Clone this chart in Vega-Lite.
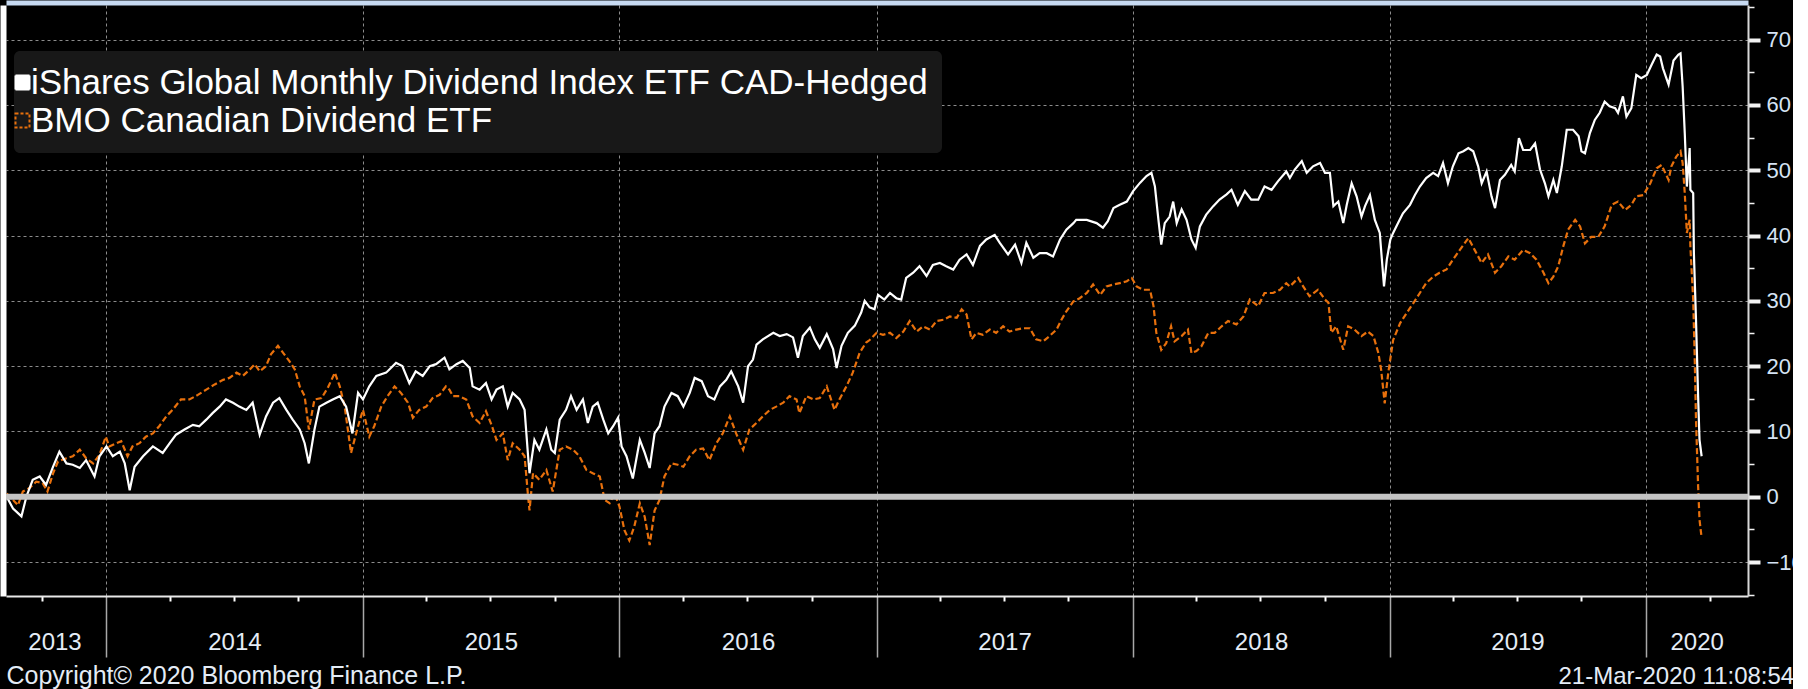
{
"$schema": "https://vega.github.io/schema/vega-lite/v6.json",
"autosize": {"type": "none"},
"padding": {"left": 6, "top": 5, "right": 45, "bottom": 93},
"width": 1742,
"height": 591,
"background": "#000000",
"config": {"view": {"stroke": null}, "font": "Liberation Sans"},
"datasets": {
"ishares": [
{"date":"2013-08-12","value":0.0},{"date":"2013-08-21","value":-1.8},{"date":"2013-09-02","value":-3.0},{"date":"2013-09-09","value":0.0},{"date":"2013-09-18","value":2.6},{"date":"2013-09-28","value":3.1},{"date":"2013-10-07","value":1.8},{"date":"2013-10-17","value":4.6},{"date":"2013-10-26","value":6.9},{"date":"2013-11-05","value":5.1},{"date":"2013-11-14","value":4.9},{"date":"2013-11-24","value":4.4},{"date":"2013-12-03","value":5.6},{"date":"2013-12-15","value":3.1},{"date":"2013-12-22","value":6.2},
{"date":"2014-01-01","value":7.7},{"date":"2014-01-10","value":6.2},{"date":"2014-01-20","value":6.9},{"date":"2014-01-27","value":5.1},{"date":"2014-02-03","value":1.0},{"date":"2014-02-10","value":4.6},{"date":"2014-02-22","value":6.2},{"date":"2014-03-08","value":7.7},{"date":"2014-03-22","value":6.7},{"date":"2014-04-01","value":8.2},{"date":"2014-04-10","value":9.5},{"date":"2014-04-22","value":10.3},{"date":"2014-05-04","value":11.0},{"date":"2014-05-13","value":10.8},{"date":"2014-05-23","value":11.8},{"date":"2014-06-01","value":12.8},{"date":"2014-06-11","value":13.8},{"date":"2014-06-20","value":14.9},{"date":"2014-06-30","value":14.4},{"date":"2014-07-09","value":13.8},{"date":"2014-07-19","value":13.3},{"date":"2014-07-28","value":14.4},{"date":"2014-08-07","value":9.5},{"date":"2014-08-16","value":12.3},{"date":"2014-08-26","value":14.4},{"date":"2014-09-04","value":15.1},{"date":"2014-09-14","value":13.3},{"date":"2014-09-23","value":11.8},{"date":"2014-10-03","value":10.3},{"date":"2014-10-10","value":8.2},{"date":"2014-10-16","value":5.1},{"date":"2014-10-24","value":10.3},{"date":"2014-10-31","value":13.8},{"date":"2014-11-10","value":14.4},{"date":"2014-11-19","value":14.9},{"date":"2014-11-29","value":15.4},{"date":"2014-12-08","value":13.8},{"date":"2014-12-17","value":9.7},{"date":"2014-12-25","value":15.9},
{"date":"2015-01-01","value":14.9},{"date":"2015-01-10","value":16.9},{"date":"2015-01-20","value":18.5},{"date":"2015-02-03","value":19.0},{"date":"2015-02-17","value":20.5},{"date":"2015-02-26","value":20.0},{"date":"2015-03-08","value":17.4},{"date":"2015-03-17","value":19.2},{"date":"2015-03-27","value":18.5},{"date":"2015-04-06","value":20.0},{"date":"2015-04-15","value":20.3},{"date":"2015-04-27","value":21.3},{"date":"2015-05-04","value":19.5},{"date":"2015-05-14","value":20.3},{"date":"2015-05-23","value":20.8},{"date":"2015-06-02","value":19.7},{"date":"2015-06-06","value":16.9},{"date":"2015-06-16","value":16.4},{"date":"2015-06-25","value":17.4},{"date":"2015-07-03","value":14.9},{"date":"2015-07-10","value":16.4},{"date":"2015-07-19","value":16.9},{"date":"2015-07-26","value":13.8},{"date":"2015-08-02","value":15.9},{"date":"2015-08-12","value":14.9},{"date":"2015-08-19","value":13.3},{"date":"2015-08-24","value":6.2},{"date":"2015-08-26","value":3.6},{"date":"2015-09-02","value":8.7},{"date":"2015-09-09","value":7.2},{"date":"2015-09-19","value":10.3},{"date":"2015-09-26","value":7.2},{"date":"2015-10-01","value":6.7},{"date":"2015-10-08","value":11.8},{"date":"2015-10-17","value":13.3},{"date":"2015-10-24","value":15.4},{"date":"2015-11-01","value":13.3},{"date":"2015-11-10","value":14.9},{"date":"2015-11-17","value":11.3},{"date":"2015-11-24","value":13.8},{"date":"2015-12-01","value":14.4},{"date":"2015-12-09","value":11.8},{"date":"2015-12-16","value":9.7},{"date":"2015-12-23","value":10.8},{"date":"2015-12-30","value":12.1},
{"date":"2016-01-04","value":7.7},{"date":"2016-01-11","value":6.2},{"date":"2016-01-20","value":2.8},{"date":"2016-01-30","value":8.7},{"date":"2016-02-06","value":6.7},{"date":"2016-02-13","value":4.4},{"date":"2016-02-20","value":9.7},{"date":"2016-02-27","value":10.8},{"date":"2016-03-05","value":13.8},{"date":"2016-03-15","value":15.9},{"date":"2016-03-24","value":15.4},{"date":"2016-04-01","value":13.8},{"date":"2016-04-10","value":15.9},{"date":"2016-04-17","value":18.2},{"date":"2016-04-27","value":17.7},{"date":"2016-05-06","value":15.4},{"date":"2016-05-15","value":14.9},{"date":"2016-05-23","value":16.9},{"date":"2016-06-01","value":17.9},{"date":"2016-06-08","value":19.2},{"date":"2016-06-18","value":16.9},{"date":"2016-06-25","value":14.4},{"date":"2016-07-02","value":20.0},{"date":"2016-07-09","value":21.0},{"date":"2016-07-14","value":23.3},{"date":"2016-07-23","value":24.1},{"date":"2016-08-07","value":25.1},{"date":"2016-08-16","value":24.6},{"date":"2016-08-26","value":24.9},{"date":"2016-09-04","value":24.4},{"date":"2016-09-11","value":21.3},{"date":"2016-09-18","value":24.6},{"date":"2016-09-28","value":25.9},{"date":"2016-10-05","value":24.1},{"date":"2016-10-12","value":22.8},{"date":"2016-10-22","value":24.9},{"date":"2016-10-31","value":22.6},{"date":"2016-11-05","value":19.7},{"date":"2016-11-12","value":23.1},{"date":"2016-11-21","value":25.1},{"date":"2016-12-01","value":26.2},{"date":"2016-12-10","value":28.2},{"date":"2016-12-15","value":30.0},{"date":"2016-12-22","value":29.0},{"date":"2016-12-29","value":28.7},
{"date":"2017-01-03","value":30.9},{"date":"2017-01-12","value":30.2},{"date":"2017-01-20","value":31.2},{"date":"2017-01-29","value":30.4},{"date":"2017-02-05","value":30.2},{"date":"2017-02-12","value":33.5},{"date":"2017-02-22","value":34.3},{"date":"2017-03-03","value":35.3},{"date":"2017-03-13","value":33.8},{"date":"2017-03-22","value":35.5},{"date":"2017-04-01","value":35.8},{"date":"2017-04-10","value":35.3},{"date":"2017-04-20","value":34.8},{"date":"2017-04-29","value":36.3},{"date":"2017-05-09","value":37.1},{"date":"2017-05-18","value":35.5},{"date":"2017-05-28","value":38.4},{"date":"2017-06-06","value":39.4},{"date":"2017-06-18","value":40.1},{"date":"2017-06-25","value":38.9},{"date":"2017-07-07","value":37.1},{"date":"2017-07-17","value":38.6},{"date":"2017-07-26","value":35.8},{"date":"2017-08-02","value":38.9},{"date":"2017-08-12","value":36.6},{"date":"2017-08-21","value":37.3},{"date":"2017-08-31","value":37.3},{"date":"2017-09-09","value":36.8},{"date":"2017-09-19","value":39.4},{"date":"2017-09-28","value":40.9},{"date":"2017-10-08","value":41.9},{"date":"2017-10-12","value":42.4},{"date":"2017-10-27","value":42.4},{"date":"2017-11-10","value":41.9},{"date":"2017-11-19","value":41.2},{"date":"2017-11-26","value":42.2},{"date":"2017-12-04","value":44.2},{"date":"2017-12-13","value":44.7},{"date":"2017-12-23","value":45.2},
{"date":"2018-01-01","value":46.8},{"date":"2018-01-11","value":48.1},{"date":"2018-01-20","value":49.1},{"date":"2018-01-27","value":49.6},{"date":"2018-02-01","value":47.5},{"date":"2018-02-06","value":42.4},{"date":"2018-02-10","value":38.6},{"date":"2018-02-15","value":41.9},{"date":"2018-02-22","value":42.9},{"date":"2018-02-27","value":45.2},{"date":"2018-03-04","value":41.9},{"date":"2018-03-11","value":44.0},{"date":"2018-03-18","value":42.4},{"date":"2018-03-25","value":39.4},{"date":"2018-03-31","value":38.1},{"date":"2018-04-06","value":41.4},{"date":"2018-04-15","value":43.2},{"date":"2018-04-25","value":44.5},{"date":"2018-05-04","value":45.5},{"date":"2018-05-14","value":46.3},{"date":"2018-05-21","value":47.0},{"date":"2018-05-30","value":44.7},{"date":"2018-06-09","value":46.8},{"date":"2018-06-18","value":45.5},{"date":"2018-06-28","value":45.5},{"date":"2018-07-07","value":47.5},{"date":"2018-07-17","value":47.0},{"date":"2018-07-26","value":48.3},{"date":"2018-08-07","value":49.8},{"date":"2018-08-12","value":48.8},{"date":"2018-08-19","value":50.1},{"date":"2018-08-29","value":51.4},{"date":"2018-09-05","value":49.6},{"date":"2018-09-14","value":50.6},{"date":"2018-09-24","value":51.1},{"date":"2018-10-01","value":49.6},{"date":"2018-10-08","value":49.6},{"date":"2018-10-13","value":44.5},{"date":"2018-10-20","value":45.2},{"date":"2018-10-27","value":41.9},{"date":"2018-11-01","value":44.7},{"date":"2018-11-08","value":48.0},{"date":"2018-11-15","value":46.0},{"date":"2018-11-22","value":42.9},{"date":"2018-11-27","value":44.5},{"date":"2018-12-04","value":46.2},{"date":"2018-12-11","value":42.4},{"date":"2018-12-18","value":40.4},{"date":"2018-12-24","value":32.2},{"date":"2018-12-28","value":36.3},
{"date":"2019-01-02","value":39.4},{"date":"2019-01-06","value":40.4},{"date":"2019-01-13","value":41.9},{"date":"2019-01-20","value":43.4},{"date":"2019-01-30","value":44.7},{"date":"2019-02-06","value":46.2},{"date":"2019-02-13","value":47.5},{"date":"2019-02-22","value":48.8},{"date":"2019-03-04","value":49.6},{"date":"2019-03-11","value":49.1},{"date":"2019-03-18","value":51.1},{"date":"2019-03-25","value":48.0},{"date":"2019-04-01","value":50.6},{"date":"2019-04-09","value":52.6},{"date":"2019-04-16","value":52.9},{"date":"2019-04-23","value":53.4},{"date":"2019-04-30","value":52.9},{"date":"2019-05-07","value":50.6},{"date":"2019-05-12","value":48.0},{"date":"2019-05-19","value":49.8},{"date":"2019-05-26","value":46.0},{"date":"2019-05-31","value":44.2},{"date":"2019-06-07","value":48.5},{"date":"2019-06-14","value":49.3},{"date":"2019-06-23","value":50.8},{"date":"2019-06-28","value":49.8},{"date":"2019-07-04","value":54.9},{"date":"2019-07-10","value":53.1},{"date":"2019-07-20","value":53.1},{"date":"2019-07-27","value":54.1},{"date":"2019-08-03","value":50.1},{"date":"2019-08-10","value":48.0},{"date":"2019-08-15","value":46.0},{"date":"2019-08-22","value":48.5},{"date":"2019-08-27","value":46.5},{"date":"2019-09-03","value":50.6},{"date":"2019-09-10","value":56.2},{"date":"2019-09-19","value":56.2},{"date":"2019-09-27","value":55.2},{"date":"2019-10-01","value":52.9},{"date":"2019-10-06","value":52.6},{"date":"2019-10-13","value":55.7},{"date":"2019-10-20","value":57.7},{"date":"2019-10-27","value":58.8},{"date":"2019-11-03","value":60.5},{"date":"2019-11-10","value":59.8},{"date":"2019-11-18","value":59.5},{"date":"2019-11-22","value":58.8},{"date":"2019-11-29","value":61.3},{"date":"2019-12-04","value":58.2},{"date":"2019-12-11","value":59.5},{"date":"2019-12-18","value":64.6},{"date":"2019-12-25","value":64.1},
{"date":"2020-01-02","value":64.6},{"date":"2020-01-09","value":66.2},{"date":"2020-01-16","value":67.7},{"date":"2020-01-21","value":67.4},{"date":"2020-01-25","value":65.6},{"date":"2020-02-02","value":63.1},{"date":"2020-02-09","value":66.8},{"date":"2020-02-16","value":67.7},{"date":"2020-02-19","value":67.9},{"date":"2020-02-22","value":62.8},{"date":"2020-02-25","value":55.7},{"date":"2020-02-28","value":47.5},{"date":"2020-03-03","value":53.4},{"date":"2020-03-04","value":47.0},{"date":"2020-03-08","value":46.5},{"date":"2020-03-09","value":37.3},{"date":"2020-03-12","value":27.1},{"date":"2020-03-15","value":15.4},{"date":"2020-03-17","value":8.7},{"date":"2020-03-20","value":6.2}
],
"bmo": [
{"date":"2013-08-12","value":0.5},{"date":"2013-08-21","value":-0.5},{"date":"2013-08-28","value":-1.3},{"date":"2013-09-04","value":0.8},{"date":"2013-09-13","value":1.3},{"date":"2013-09-23","value":2.3},{"date":"2013-10-02","value":2.1},{"date":"2013-10-09","value":0.8},{"date":"2013-10-17","value":3.6},{"date":"2013-10-24","value":5.4},{"date":"2013-11-05","value":5.9},{"date":"2013-11-14","value":6.2},{"date":"2013-11-24","value":7.2},{"date":"2013-12-03","value":5.9},{"date":"2013-12-13","value":5.1},{"date":"2013-12-22","value":6.4},{"date":"2013-12-31","value":9.2},
{"date":"2014-01-05","value":7.7},{"date":"2014-01-15","value":8.2},{"date":"2014-01-22","value":8.5},{"date":"2014-01-31","value":6.2},{"date":"2014-02-07","value":7.7},{"date":"2014-02-17","value":8.2},{"date":"2014-02-26","value":9.2},{"date":"2014-03-08","value":9.7},{"date":"2014-03-17","value":10.8},{"date":"2014-03-27","value":12.3},{"date":"2014-04-05","value":13.3},{"date":"2014-04-17","value":14.9},{"date":"2014-04-29","value":14.9},{"date":"2014-05-11","value":15.6},{"date":"2014-05-23","value":16.4},{"date":"2014-06-04","value":17.2},{"date":"2014-06-16","value":17.9},{"date":"2014-06-25","value":18.2},{"date":"2014-07-05","value":19.0},{"date":"2014-07-14","value":18.5},{"date":"2014-07-24","value":19.5},{"date":"2014-07-31","value":20.3},{"date":"2014-08-07","value":19.2},{"date":"2014-08-16","value":20.0},{"date":"2014-08-23","value":21.8},{"date":"2014-09-02","value":23.1},{"date":"2014-09-11","value":21.8},{"date":"2014-09-18","value":20.8},{"date":"2014-09-26","value":19.5},{"date":"2014-10-03","value":16.9},{"date":"2014-10-10","value":15.4},{"date":"2014-10-16","value":10.3},{"date":"2014-10-24","value":14.9},{"date":"2014-11-03","value":15.1},{"date":"2014-11-12","value":16.7},{"date":"2014-11-22","value":19.0},{"date":"2014-11-29","value":16.9},{"date":"2014-12-06","value":13.8},{"date":"2014-12-15","value":6.7},{"date":"2014-12-25","value":10.8},
{"date":"2015-01-01","value":13.3},{"date":"2015-01-10","value":9.2},{"date":"2015-01-17","value":10.8},{"date":"2015-01-27","value":13.8},{"date":"2015-02-05","value":15.4},{"date":"2015-02-15","value":16.9},{"date":"2015-02-24","value":15.9},{"date":"2015-03-06","value":14.4},{"date":"2015-03-13","value":12.1},{"date":"2015-03-22","value":13.3},{"date":"2015-04-01","value":13.8},{"date":"2015-04-10","value":15.1},{"date":"2015-04-20","value":15.6},{"date":"2015-04-29","value":16.9},{"date":"2015-05-04","value":16.4},{"date":"2015-05-09","value":15.4},{"date":"2015-05-18","value":15.4},{"date":"2015-05-28","value":14.9},{"date":"2015-06-06","value":12.3},{"date":"2015-06-16","value":11.3},{"date":"2015-06-25","value":13.1},{"date":"2015-07-03","value":11.0},{"date":"2015-07-10","value":8.7},{"date":"2015-07-19","value":9.7},{"date":"2015-07-26","value":5.6},{"date":"2015-08-02","value":8.2},{"date":"2015-08-12","value":7.2},{"date":"2015-08-19","value":6.2},{"date":"2015-08-24","value":0.0},{"date":"2015-08-26","value":-2.1},{"date":"2015-08-31","value":3.6},{"date":"2015-09-09","value":2.6},{"date":"2015-09-19","value":4.1},{"date":"2015-09-28","value":0.8},{"date":"2015-10-08","value":7.2},{"date":"2015-10-17","value":7.7},{"date":"2015-10-27","value":7.2},{"date":"2015-11-05","value":6.2},{"date":"2015-11-15","value":4.1},{"date":"2015-11-24","value":3.6},{"date":"2015-12-04","value":3.1},{"date":"2015-12-11","value":-0.5},{"date":"2015-12-18","value":-1.0},{"date":"2015-12-25","value":0.5},
{"date":"2016-01-01","value":-1.5},{"date":"2016-01-08","value":-5.1},{"date":"2016-01-15","value":-6.7},{"date":"2016-01-22","value":-4.6},{"date":"2016-01-30","value":-1.0},{"date":"2016-02-06","value":-3.1},{"date":"2016-02-13","value":-7.4},{"date":"2016-02-20","value":-2.1},{"date":"2016-02-27","value":-0.5},{"date":"2016-03-05","value":3.1},{"date":"2016-03-15","value":5.1},{"date":"2016-03-24","value":4.9},{"date":"2016-04-01","value":4.6},{"date":"2016-04-10","value":6.2},{"date":"2016-04-19","value":7.2},{"date":"2016-04-29","value":7.4},{"date":"2016-05-08","value":5.6},{"date":"2016-05-18","value":8.2},{"date":"2016-05-27","value":9.7},{"date":"2016-06-06","value":12.3},{"date":"2016-06-15","value":9.7},{"date":"2016-06-25","value":7.2},{"date":"2016-07-04","value":10.3},{"date":"2016-07-14","value":11.3},{"date":"2016-07-23","value":12.3},{"date":"2016-08-02","value":13.3},{"date":"2016-08-11","value":13.8},{"date":"2016-08-21","value":14.4},{"date":"2016-08-30","value":15.4},{"date":"2016-09-09","value":14.9},{"date":"2016-09-13","value":12.8},{"date":"2016-09-23","value":15.4},{"date":"2016-10-03","value":14.9},{"date":"2016-10-12","value":15.1},{"date":"2016-10-22","value":16.9},{"date":"2016-11-02","value":13.3},{"date":"2016-11-09","value":14.9},{"date":"2016-11-19","value":16.9},{"date":"2016-11-28","value":19.0},{"date":"2016-12-08","value":22.1},{"date":"2016-12-17","value":23.6},{"date":"2016-12-22","value":24.0},
{"date":"2017-01-01","value":25.1},{"date":"2017-01-10","value":24.8},{"date":"2017-01-20","value":25.1},{"date":"2017-01-29","value":24.3},{"date":"2017-02-08","value":25.3},{"date":"2017-02-17","value":26.9},{"date":"2017-02-27","value":25.3},{"date":"2017-03-08","value":26.1},{"date":"2017-03-18","value":25.6},{"date":"2017-03-27","value":26.9},{"date":"2017-04-06","value":27.1},{"date":"2017-04-15","value":27.6},{"date":"2017-04-25","value":27.4},{"date":"2017-05-02","value":28.7},{"date":"2017-05-09","value":27.9},{"date":"2017-05-16","value":24.1},{"date":"2017-05-23","value":25.1},{"date":"2017-06-01","value":24.8},{"date":"2017-06-11","value":25.6},{"date":"2017-06-20","value":25.1},{"date":"2017-06-30","value":26.1},{"date":"2017-07-09","value":25.3},{"date":"2017-07-19","value":25.6},{"date":"2017-07-28","value":25.8},{"date":"2017-08-07","value":25.8},{"date":"2017-08-16","value":24.1},{"date":"2017-08-26","value":23.8},{"date":"2017-09-04","value":24.6},{"date":"2017-09-14","value":25.6},{"date":"2017-09-21","value":27.1},{"date":"2017-09-28","value":28.4},{"date":"2017-10-08","value":29.9},{"date":"2017-10-17","value":30.4},{"date":"2017-10-27","value":31.2},{"date":"2017-11-05","value":32.5},{"date":"2017-11-15","value":30.9},{"date":"2017-11-24","value":32.2},{"date":"2017-12-04","value":32.5},{"date":"2017-12-13","value":32.7},{"date":"2017-12-23","value":33.0},{"date":"2017-12-30","value":33.5},
{"date":"2018-01-06","value":32.2},{"date":"2018-01-15","value":31.7},{"date":"2018-01-25","value":31.7},{"date":"2018-01-30","value":29.2},{"date":"2018-02-03","value":25.1},{"date":"2018-02-10","value":22.5},{"date":"2018-02-17","value":23.5},{"date":"2018-02-24","value":26.1},{"date":"2018-03-01","value":23.8},{"date":"2018-03-11","value":24.6},{"date":"2018-03-20","value":25.6},{"date":"2018-03-25","value":22.0},{"date":"2018-04-01","value":22.3},{"date":"2018-04-08","value":23.0},{"date":"2018-04-18","value":25.1},{"date":"2018-04-27","value":25.1},{"date":"2018-05-07","value":26.1},{"date":"2018-05-16","value":26.9},{"date":"2018-05-28","value":26.4},{"date":"2018-06-07","value":27.6},{"date":"2018-06-16","value":30.2},{"date":"2018-06-28","value":29.2},{"date":"2018-07-07","value":31.2},{"date":"2018-07-19","value":31.2},{"date":"2018-07-29","value":31.7},{"date":"2018-08-07","value":32.7},{"date":"2018-08-12","value":32.2},{"date":"2018-08-24","value":33.5},{"date":"2018-08-31","value":32.2},{"date":"2018-09-09","value":30.7},{"date":"2018-09-21","value":31.7},{"date":"2018-10-01","value":30.2},{"date":"2018-10-06","value":29.7},{"date":"2018-10-10","value":25.1},{"date":"2018-10-17","value":26.1},{"date":"2018-10-27","value":22.5},{"date":"2018-11-03","value":26.1},{"date":"2018-11-12","value":25.6},{"date":"2018-11-22","value":24.6},{"date":"2018-12-01","value":25.3},{"date":"2018-12-09","value":24.6},{"date":"2018-12-16","value":22.0},{"date":"2018-12-20","value":19.4},{"date":"2018-12-25","value":14.3},{"date":"2018-12-30","value":18.9},
{"date":"2019-01-06","value":24.0},{"date":"2019-01-16","value":26.6},{"date":"2019-01-25","value":28.1},{"date":"2019-02-04","value":29.7},{"date":"2019-02-13","value":31.2},{"date":"2019-02-22","value":32.7},{"date":"2019-03-04","value":33.7},{"date":"2019-03-13","value":34.3},{"date":"2019-03-23","value":34.8},{"date":"2019-04-01","value":36.3},{"date":"2019-04-11","value":37.8},{"date":"2019-04-23","value":39.6},{"date":"2019-05-02","value":37.8},{"date":"2019-05-12","value":35.8},{"date":"2019-05-21","value":37.1},{"date":"2019-05-31","value":34.3},{"date":"2019-06-09","value":35.3},{"date":"2019-06-19","value":36.8},{"date":"2019-06-28","value":36.3},{"date":"2019-07-10","value":37.8},{"date":"2019-07-20","value":37.3},{"date":"2019-07-29","value":36.3},{"date":"2019-08-08","value":34.3},{"date":"2019-08-15","value":32.7},{"date":"2019-08-22","value":33.7},{"date":"2019-08-29","value":35.3},{"date":"2019-09-05","value":38.3},{"date":"2019-09-12","value":40.9},{"date":"2019-09-22","value":42.4},{"date":"2019-09-29","value":41.4},{"date":"2019-10-06","value":38.8},{"date":"2019-10-15","value":39.8},{"date":"2019-10-25","value":39.8},{"date":"2019-11-03","value":41.4},{"date":"2019-11-13","value":44.7},{"date":"2019-11-22","value":45.2},{"date":"2019-12-02","value":43.9},{"date":"2019-12-11","value":44.7},{"date":"2019-12-18","value":46.0},{"date":"2019-12-28","value":46.2},
{"date":"2020-01-07","value":48.0},{"date":"2020-01-16","value":50.3},{"date":"2020-01-23","value":50.8},{"date":"2020-02-02","value":48.5},{"date":"2020-02-06","value":50.6},{"date":"2020-02-13","value":52.1},{"date":"2020-02-19","value":52.9},{"date":"2020-02-22","value":51.1},{"date":"2020-02-25","value":46.5},{"date":"2020-02-28","value":40.4},{"date":"2020-03-03","value":42.4},{"date":"2020-03-04","value":38.3},{"date":"2020-03-08","value":30.2},{"date":"2020-03-10","value":22.0},{"date":"2020-03-12","value":11.8},{"date":"2020-03-15","value":1.6},{"date":"2020-03-17","value":-3.5},{"date":"2020-03-20","value":-6.3}
]
},
"resolve": {"axis": {"x": "independent", "y": "independent"}},
"layer": [
{
"data": {"name": "bmo"},
"mark": {"type": "line", "strokeWidth": 2.2, "strokeDash": [6, 3]},
"encoding": {
"x": {"field": "date", "type": "temporal", "axis": {"orient": "top", "domain": true, "domainColor": "#c6d9f1", "domainWidth": 5, "domainCap": "butt", "offset": 2.5, "ticks": false, "labels": false, "grid": false, "title": null}},
"y": {"field": "value", "type": "quantitative", "axis": {"orient": "left", "domain": true, "domainColor": "#ffffff", "domainWidth": 6, "domainCap": "butt", "offset": 3, "ticks": false, "labels": false, "grid": false, "title": null}},
"color": {"datum": "BMO Canadian Dividend ETF"}
}
},
{
"data": {"name": "ishares"},
"mark": {"type": "line", "strokeWidth": 2.2},
"encoding": {
"x": {"field": "date", "type": "temporal",
"scale": {"domain": [{"year": 2013, "month": 8, "date": 11}, {"year": 2020, "month": 5, "date": 25}], "nice": false},
"axis": {
"orient": "bottom",
"values": [
{"year": 2013, "month": 10, "date": 1}, {"year": 2013, "month": 10, "date": 19},
{"year": 2014, "month": 1, "date": 1}, {"year": 2014, "month": 4, "date": 1}, {"year": 2014, "month": 7, "date": 1}, {"year": 2014, "month": 7, "date": 2}, {"year": 2014, "month": 10, "date": 1},
{"year": 2015, "month": 1, "date": 1}, {"year": 2015, "month": 4, "date": 1}, {"year": 2015, "month": 7, "date": 1}, {"year": 2015, "month": 7, "date": 2}, {"year": 2015, "month": 10, "date": 1},
{"year": 2016, "month": 1, "date": 1}, {"year": 2016, "month": 4, "date": 1}, {"year": 2016, "month": 7, "date": 1}, {"year": 2016, "month": 7, "date": 2}, {"year": 2016, "month": 10, "date": 1},
{"year": 2017, "month": 1, "date": 1}, {"year": 2017, "month": 4, "date": 1}, {"year": 2017, "month": 7, "date": 1}, {"year": 2017, "month": 7, "date": 2}, {"year": 2017, "month": 10, "date": 1},
{"year": 2018, "month": 1, "date": 1}, {"year": 2018, "month": 4, "date": 1}, {"year": 2018, "month": 7, "date": 1}, {"year": 2018, "month": 7, "date": 2}, {"year": 2018, "month": 10, "date": 1},
{"year": 2019, "month": 1, "date": 1}, {"year": 2019, "month": 4, "date": 1}, {"year": 2019, "month": 7, "date": 1}, {"year": 2019, "month": 7, "date": 2}, {"year": 2019, "month": 10, "date": 1},
{"year": 2020, "month": 1, "date": 1}, {"year": 2020, "month": 3, "date": 13}, {"year": 2020, "month": 4, "date": 1}
],
"domain": true, "domainColor": "#e8e8e8", "domainWidth": 2,
"grid": true, "gridColor": "#8c8c8c", "gridDash": [3, 3], "gridWidth": 1,
"gridOpacity": {"condition": {"test": "month(datum.value) == 0 && date(datum.value) == 1", "value": 1}, "value": 0},
"ticks": true,
"tickSize": {"condition": {"test": "month(datum.value) == 0 && date(datum.value) == 1", "value": 61}, "value": 5},
"tickColor": {"condition": {"test": "month(datum.value) == 0 && date(datum.value) == 1", "value": "#a8a8a8"}, "value": "#ffffff"},
"tickWidth": {"condition": {"test": "month(datum.value) == 0 && date(datum.value) == 1", "value": 1.5}, "value": 2},
"tickOpacity": {"condition": {"test": "date(datum.value) != 1", "value": 0}, "value": 1},
"labelExpr": "date(datum.value) != 1 ? timeFormat(datum.value, '%Y') : ''",
"labelOverlap": false, "labelFlush": false, "labelBound": false,
"labelPadding": 41, "labelBaseline": "middle", "labelAlign": "center",
"labelFont": "Liberation Sans", "labelFontSize": 24, "labelColor": "#e4ecf6",
"title": "Copyright© 2020 Bloomberg Finance L.P.",
"titleX": 0, "titleY": 79, "titleAlign": "left", "titleBaseline": "middle", "titleAngle": 0,
"titleFont": "Liberation Sans", "titleFontSize": 25, "titleFontWeight": "normal", "titleColor": "#e4ecf6"
}
},
"y": {"field": "value", "type": "quantitative",
"scale": {"domain": [-15.2, 75.3], "nice": false, "zero": false},
"axis": {
"orient": "right",
"values": [-15, -10, -5, 0, 5, 10, 15, 20, 25, 30, 35, 40, 45, 50, 55, 60, 65, 70, 75],
"domain": true, "domainColor": "#d8d8d8", "domainWidth": 2,
"grid": true, "gridColor": "#8c8c8c", "gridDash": [3, 3], "gridWidth": 1,
"gridOpacity": {"condition": {"test": "datum.value % 10 == 0 && datum.value != 0", "value": 1}, "value": 0},
"tickColor": "#f2f2f2",
"tickSize": {"condition": {"test": "datum.value % 10 == 0", "value": 12}, "value": 6},
"tickWidth": {"condition": {"test": "datum.value % 10 == 0", "value": 4}, "value": 1.5},
"labelExpr": "datum.value % 10 == 0 ? datum.label : ''",
"labelPadding": 6, "labelBaseline": "middle", "labelAlign": "left",
"labelOverlap": false, "labelBound": false, "labelFlush": false,
"labelFont": "Liberation Sans", "labelFontSize": 22, "labelColor": "#d5e3f4",
"title": "21-Mar-2020 11:08:54",
"titleX": -190, "titleY": 671, "titleAlign": "left", "titleBaseline": "middle", "titleAngle": 0,
"titleFont": "Liberation Sans", "titleFontSize": 24, "titleFontWeight": "normal", "titleColor": "#e4ecf6"
}
},
"color": {"datum": "iShares Global Monthly Dividend Index ETF CAD-Hedged",
"scale": {"domain": ["iShares Global Monthly Dividend Index ETF CAD-Hedged", "BMO Canadian Dividend ETF"], "range": ["#ffffff", "#e8700c"]},
"legend": {
"orient": "none", "legendX": 8, "legendY": 46, "title": null, "direction": "vertical",
"fillColor": "#181818", "cornerRadius": 6, "padding": 14,
"labelFont": "Liberation Sans", "labelFontSize": 35, "labelColor": "#ffffff", "labelLimit": 1500, "labelOffset": -9,
"symbolType": "square", "symbolSize": 196, "symbolStrokeWidth": 2, "symbolOffset": -23, "rowPadding": 2,
"encode": {"symbols": {"update": {
"fill": {"signal": "datum.value === 'BMO Canadian Dividend ETF' ? 'transparent' : '#ffffff'"},
"strokeDash": {"signal": "datum.value === 'BMO Canadian Dividend ETF' ? [3, 2] : [1, 0]"}
}}}
}
}
}
},
{
"data": {"values": [{}]},
"mark": {"type": "rule", "color": "#c4c4c4", "strokeWidth": 6},
"encoding": {"y": {"datum": 0, "type": "quantitative", "axis": null}}
}
]
}
